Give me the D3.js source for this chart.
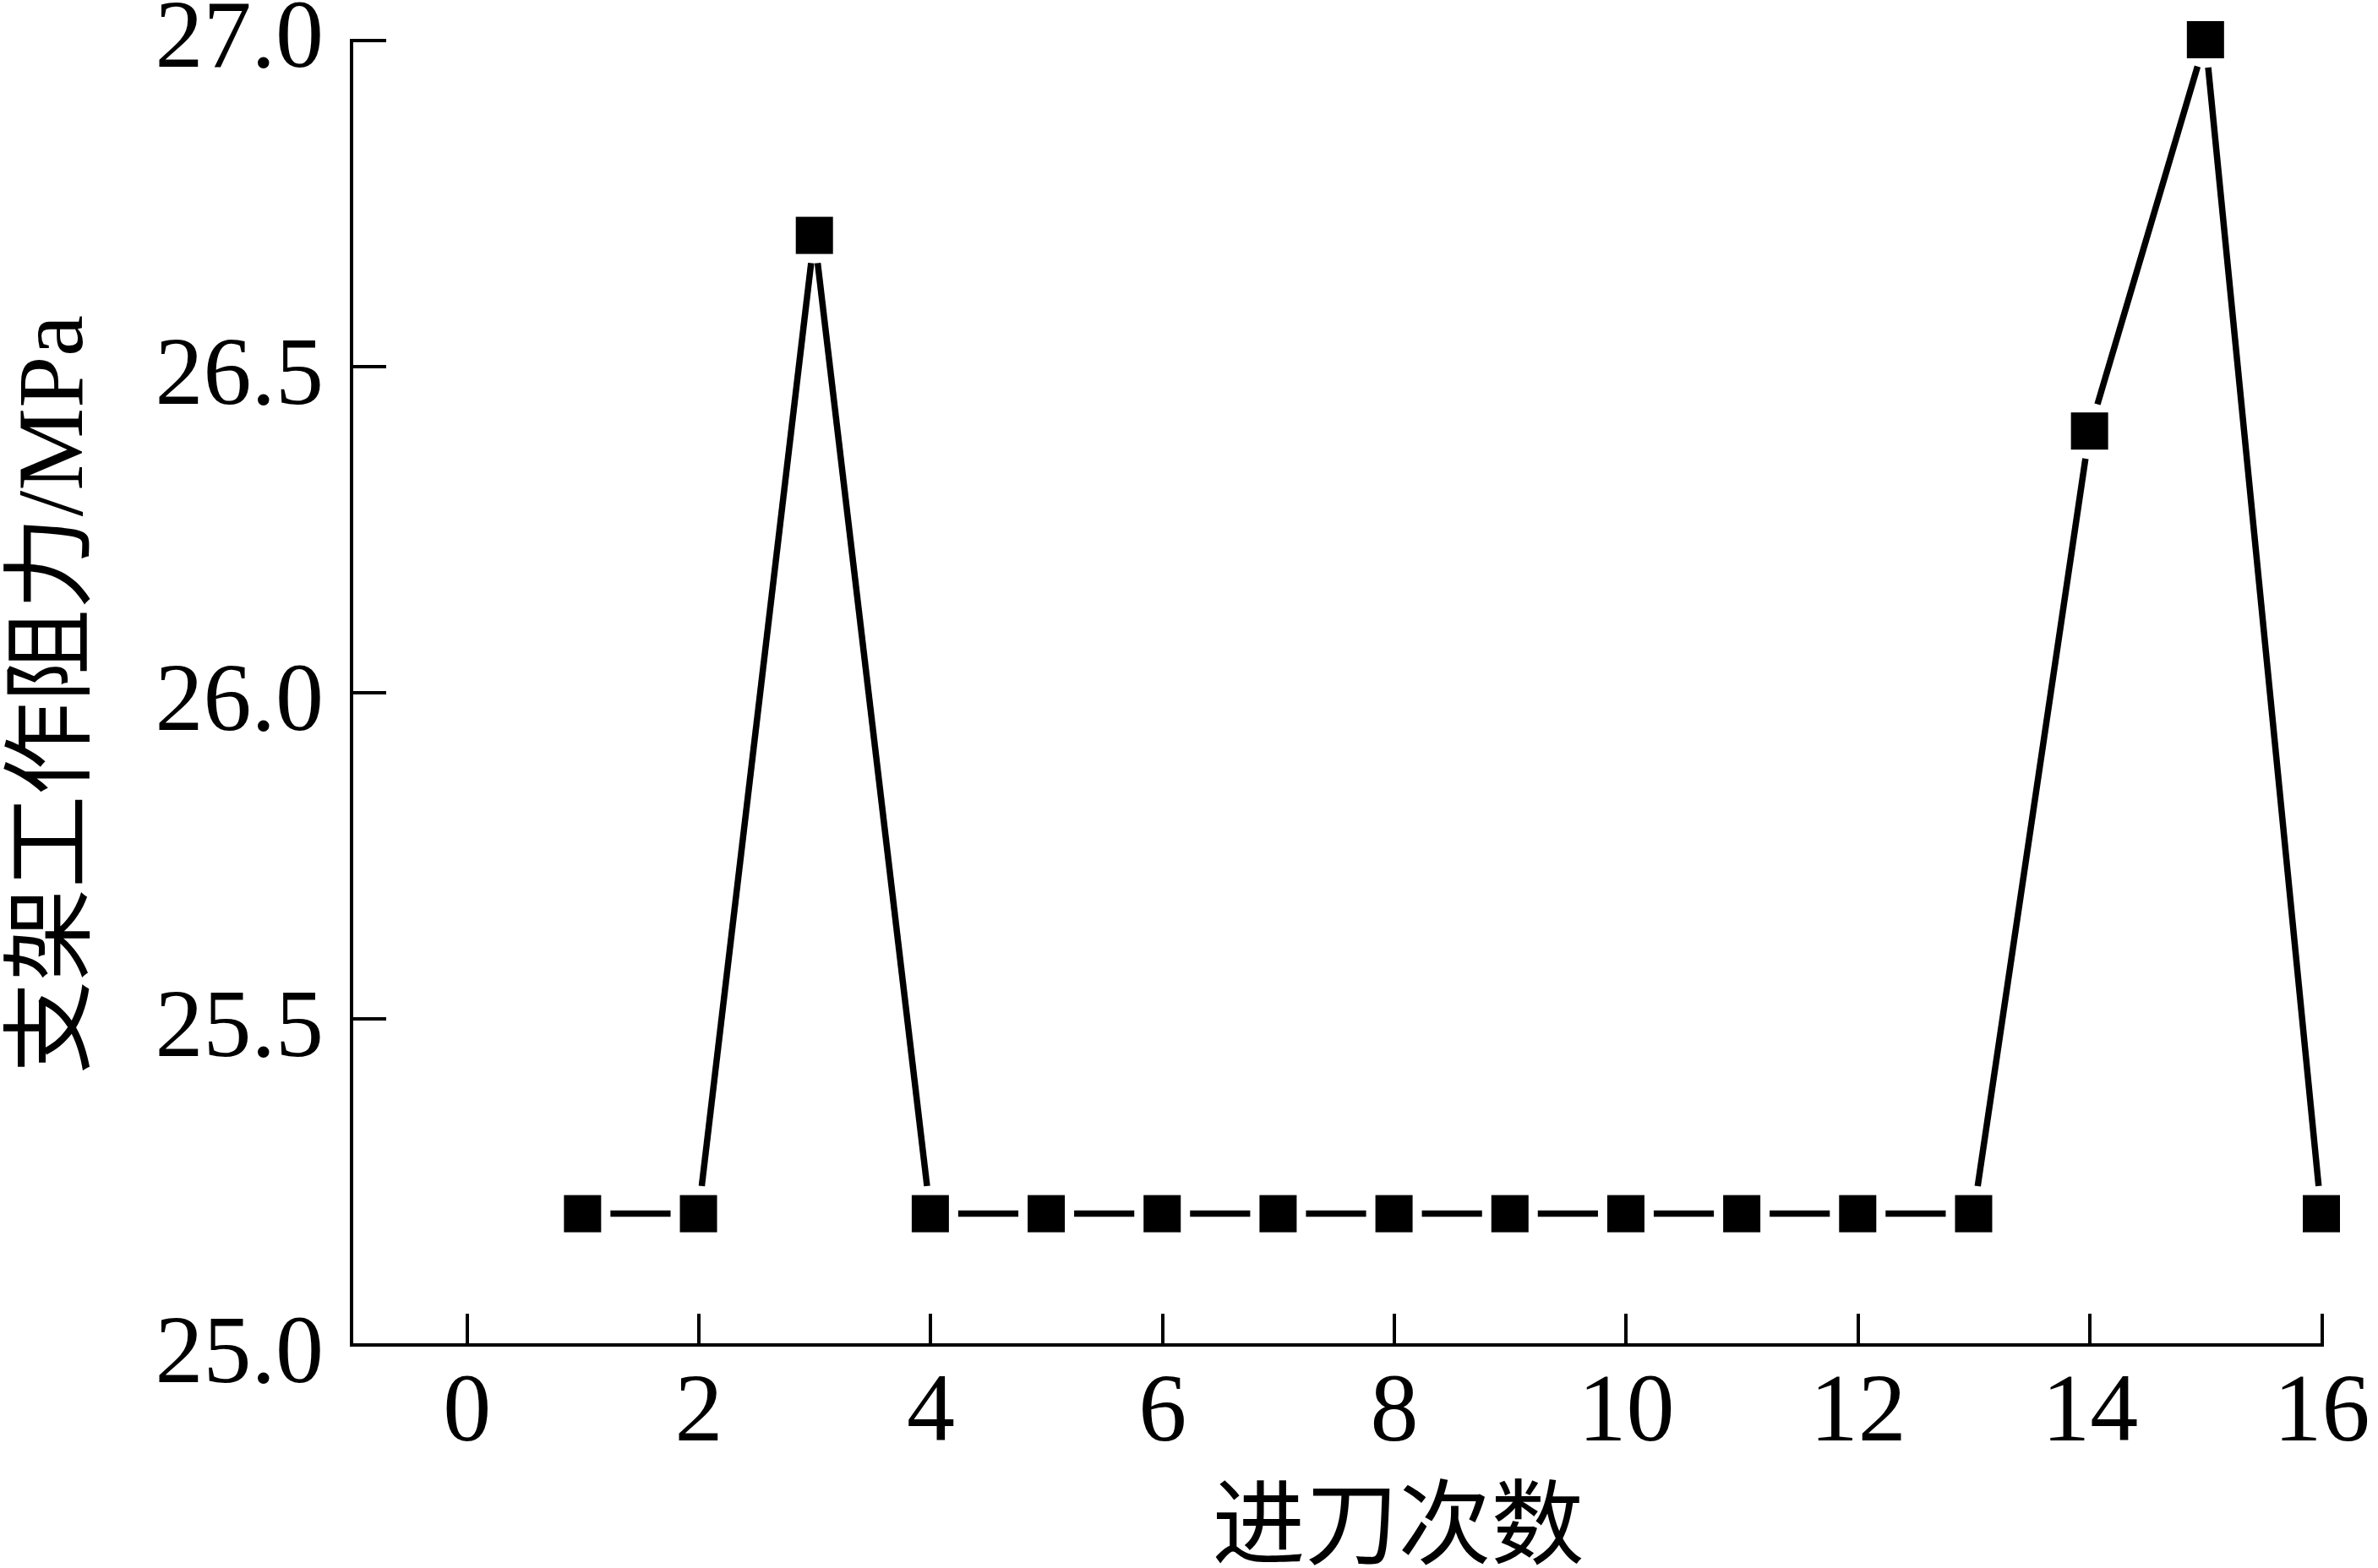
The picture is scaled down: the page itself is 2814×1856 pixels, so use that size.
<!DOCTYPE html>
<html>
<head>
<meta charset="utf-8">
<script src="https://cdn.jsdelivr.net/npm/d3@7"></script>
<style>
  body { margin: 0; background: #fff; }
  svg { display: block; }
  .axis path, .axis line { stroke: #000; stroke-width: 4; shape-rendering: crispEdges; }
  .axis text { font-family: "Times New Roman", "Liberation Serif", serif; font-size: 114px; fill: #000; }
  .title { font-family: "Times New Roman", "Liberation Serif", "Noto Sans CJK SC", serif; font-size: 110px; fill: #000; }
</style>
</head>
<body>
<div id="chart"></div>
<script>
// data
var cuts = [1, 2, 3, 4, 5, 6, 7, 8, 9, 10, 11, 12, 13, 14, 15, 16];
var resistance = [25.2, 25.2, 26.7, 25.2, 25.2, 25.2, 25.2, 25.2, 25.2, 25.2, 25.2, 25.2, 25.2, 26.4, 27.0, 25.2];
var xTicks = [0, 2, 4, 6, 8, 10, 12, 14, 16];
var yTicks = [25.0, 25.5, 26.0, 26.5, 27.0];
var xLabel = '进刀次数';
var yLabel = '支架工作阻力/MPa';

var W = 2814, H = 1856;
var margin = { left: 415, right: 67, top: 47, bottom: 265 };

var svg = d3.select('#chart').append('svg')
    .attr('width', W)
    .attr('height', H);

svg.append('rect').attr('width', W).attr('height', H).attr('fill', '#fff');

var x = d3.scaleLinear()
    .domain([-1, 16])
    .range([margin.left, W - margin.right]);

var y = d3.scaleLinear()
    .domain([25, 27])
    .range([H - margin.bottom, margin.top]);

// axes, ticks pointing inward
var xAxis = d3.axisBottom(x)
    .tickValues(xTicks)
    .tickFormat(d3.format('d'))
    .tickSizeInner(-36)
    .tickSizeOuter(0)
    .tickPadding(33);

var yAxis = d3.axisLeft(y)
    .tickValues(yTicks)
    .tickFormat(d3.format('.1f'))
    .tickSizeInner(-42)
    .tickSizeOuter(0)
    .tickPadding(32);

svg.append('g')
    .attr('class', 'axis x')
    .attr('transform', 'translate(0,' + y.range()[0] + ')')
    .call(xAxis);

var gy = svg.append('g')
    .attr('class', 'axis y')
    .attr('transform', 'translate(' + margin.left + ',0)')
    .call(yAxis);

gy.selectAll('text').attr('dy', function(d) {
    return d === 27 ? '0.28em' : '0.39em';
});

svg.selectAll('.axis path').attr('fill', 'none').attr('stroke-linecap', 'square');

// line segments, cut short near each marker
var pts = cuts.map(function(c, i) { return [x(c), y(resistance[i])]; });
var gap = 33;
var segs = d3.pairs(pts).map(function(p) {
    var dx = p[1][0] - p[0][0], dy = p[1][1] - p[0][1];
    var len = Math.sqrt(dx * dx + dy * dy);
    var ux = dx / len, uy = dy / len;
    return [p[0][0] + ux * gap, p[0][1] + uy * gap, p[1][0] - ux * gap, p[1][1] - uy * gap];
});

svg.append('g').selectAll('line')
    .data(segs)
    .enter().append('line')
    .attr('x1', function(d) { return d[0]; })
    .attr('y1', function(d) { return d[1]; })
    .attr('x2', function(d) { return d[2]; })
    .attr('y2', function(d) { return d[3]; })
    .attr('stroke', '#000')
    .attr('stroke-width', 7.5);

// square markers
var ms = 44;
svg.append('g').selectAll('rect')
    .data(cuts)
    .enter().append('rect')
    .attr('x', function(d) { return x(d) - ms / 2; })
    .attr('y', function(d, i) { return y(resistance[i]) - ms / 2; })
    .attr('width', ms)
    .attr('height', ms)
    .attr('fill', '#000');

// titles
svg.append('text')
    .attr('class', 'title')
    .attr('x', (x(0) + x(16)) / 2 + 5)
    .attr('y', 1806)
    .attr('dominant-baseline', 'central')
    .attr('text-anchor', 'middle')
    .text(xLabel);

svg.append('text')
    .attr('class', 'title')
    .attr('transform', 'translate(60,' + (y(26) + 3) + ') rotate(-90)')
    .attr('dominant-baseline', 'central')
    .attr('text-anchor', 'middle')
    .text(yLabel);
</script>
</body>
</html>
